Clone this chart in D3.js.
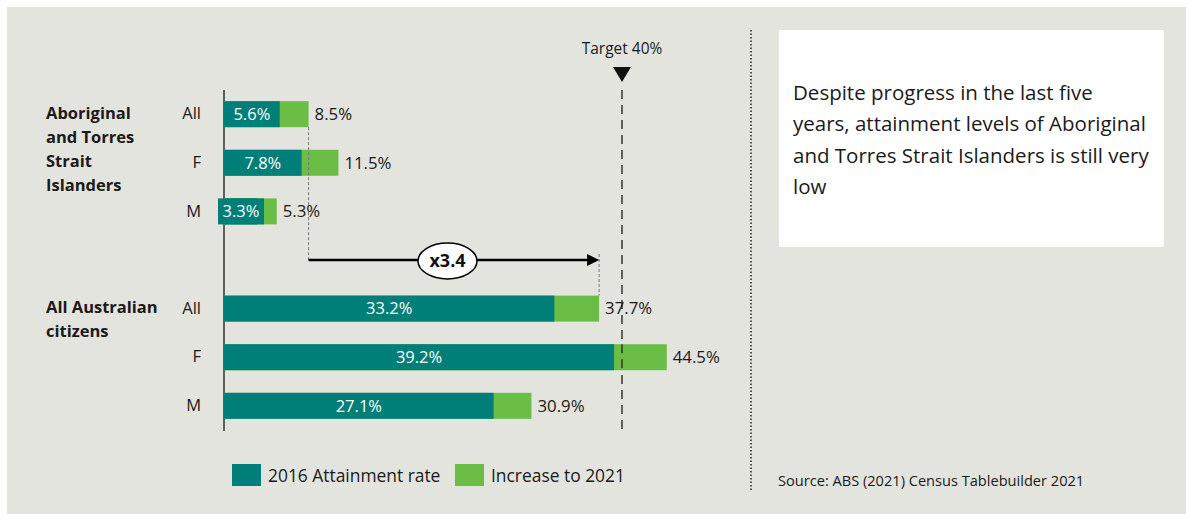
<!DOCTYPE html>
<html>
<head>
<meta charset="utf-8">
<script src="https://cdn.jsdelivr.net/npm/d3@7/dist/d3.min.js"></script>
<style>
  html, body { margin: 0; padding: 0; background: #ffffff; }
  svg { display: block; font-family: "Open Sans", Lato, sans-serif; }
</style>
</head>
<body>
<svg id="chart" width="1186" height="514"></svg>
<script>
// Bachelor-level attainment, 2016 rate and increase to 2021 (%)
const rows = ["atsi-All", "atsi-F", "atsi-M", "gap", "aus-All", "aus-F", "aus-M"];
const rowLabels = ["All", "F", "M", "", "All", "F", "M"];
const rate2016 = [5.6, 7.8, 3.3, null, 33.2, 39.2, 27.1];
const rate2021 = [8.5, 11.5, 5.3, null, 37.7, 44.5, 30.9];
const groupLabels = [
  { row: "atsi-All", lines: ["Aboriginal", "and Torres", "Strait", "Islanders"] },
  { row: "aus-All", lines: ["All Australian", "citizens"] }
];
const target = 40;
const multiplier = "x3.4";
const seriesNames = ["2016 Attainment rate", "Increase to 2021"];
const colors = ["#007f78", "#6abd45"];
const noteText = ["Despite progress in the last five", "years, attainment levels of Aboriginal",
                  "and Torres Strait Islanders is still very", "low"];
const sourceText = "Source: ABS (2021) Census Tablebuilder 2021";

const svg = d3.select("#chart");
const W = 1186, H = 514;
const ink = "#1a1a1a";

// panel background
svg.append("rect").attr("x", 7).attr("y", 7).attr("width", W - 7).attr("height", H - 7)
  .attr("fill", "#e4e4df");

const x = d3.scaleLinear().domain([0, 44.5]).range([224, 224 + 44.5 * 9.95]);
const y = d3.scaleBand().domain(rows).range([90, 430]).paddingInner(0.465).paddingOuter(0.23);
const bh = y.bandwidth();
const cy = r => y(r) + bh / 2;

const data = rows.map((r, i) => ({ row: r, label: rowLabels[i], v0: rate2016[i], v1: rate2021[i] }))
  .filter(d => d.v0 !== null);

// baseline (drawn first so bar labels sit over it)
svg.append("line").attr("x1", x(0)).attr("x2", x(0)).attr("y1", 90).attr("y2", 431)
  .attr("stroke", "#333").attr("stroke-width", 1.5);

// target line
svg.append("line").attr("x1", x(target)).attr("x2", x(target)).attr("y1", 90).attr("y2", 430)
  .attr("stroke", "#333").attr("stroke-width", 1.5).attr("stroke-dasharray", "9,6");

// bars: full 2021 length in green, 2016 base in teal on top
svg.append("g").selectAll("rect").data(data).join("rect")
  .attr("x", x(0)).attr("y", d => y(d.row))
  .attr("width", d => x(d.v1) - x(0)).attr("height", bh)
  .attr("fill", colors[1]);
svg.append("g").selectAll("rect").data(data).join("rect")
  .attr("x", x(0)).attr("y", d => y(d.row))
  .attr("width", d => x(d.v0) - x(0)).attr("height", bh)
  .attr("fill", colors[0]);

// the target line shows through the bars it crosses
svg.append("line").attr("x1", x(target)).attr("x2", x(target))
  .attr("y1", y("aus-F")).attr("y2", y("aus-F") + bh)
  .attr("stroke", "#333").attr("stroke-width", 1.5).attr("stroke-dasharray", "9,6");

// inner labels (white); narrow bars get a label box that overflows the bar
const inner = svg.append("g");
data.forEach(d => {
  const w = x(d.v0) - x(0);
  const txt = d.v0.toFixed(1) + "%";
  if (w < 40) {
    inner.append("rect").attr("x", x(0) - 6).attr("y", y(d.row))
      .attr("width", 46).attr("height", bh).attr("fill", colors[0]);
    inner.append("text").attr("x", x(0) - 6 + 23).attr("y", cy(d.row))
      .attr("text-anchor", "middle").attr("dy", "0.35em")
      .attr("fill", "#fff").attr("font-size", 16.5).text(txt);
  } else {
    inner.append("text").attr("x", (x(0) + x(d.v0)) / 2).attr("y", cy(d.row))
      .attr("text-anchor", "middle").attr("dy", "0.35em")
      .attr("fill", "#fff").attr("font-size", 16.5).text(txt);
  }
});

// end labels
svg.append("g").selectAll("text").data(data).join("text")
  .attr("x", d => x(d.v1) + 6).attr("y", d => cy(d.row)).attr("dy", "0.35em")
  .attr("font-size", 16.8).attr("fill", ink)
  .text(d => d.v1.toFixed(1) + "%");

// category axis
const axis = d3.axisLeft(y).tickSize(0).tickPadding(23)
  .tickFormat((d, i) => rowLabels[i]);
const gAxis = svg.append("g").attr("transform", `translate(${x(0)},0)`).call(axis);
gAxis.select(".domain").remove();
gAxis.selectAll("text").attr("font-size", 16.5).attr("fill", ink)
  .style("font-family", "'Open Sans', Lato, sans-serif");

// group labels
groupLabels.forEach(g => {
  const t = svg.append("text").attr("x", 46).attr("y", cy(g.row) - 1)
    .attr("font-size", 16.5).attr("font-weight", "bold").attr("fill", ink);
  g.lines.forEach((l, i) => t.append("tspan").attr("x", 46).attr("dy", i === 0 ? "0.35em" : 24).text(l));
});

// target marker
svg.append("path")
  .attr("d", `M${x(target) - 9},${67} L${x(target) + 9},${67} L${x(target)},${82} Z`)
  .attr("fill", "#111");
svg.append("text").attr("x", x(target)).attr("y", 54).attr("text-anchor", "middle")
  .attr("font-size", 15.5).attr("fill", ink).text("Target " + target + "%");

// comparison arrow: Aboriginal All (2021) vs All Australians (2021)
const ay = cy("gap");
const xa = x(rate2021[0]), xb = x(rate2021[4]);
svg.append("line").attr("x1", xa).attr("x2", xa).attr("y1", y("atsi-All") + bh).attr("y2", ay)
  .attr("stroke", "#777").attr("stroke-dasharray", "3,2");
svg.append("line").attr("x1", xb).attr("x2", xb).attr("y1", ay - 6).attr("y2", y("aus-All"))
  .attr("stroke", "#777").attr("stroke-dasharray", "3,2");
svg.append("line").attr("x1", xa).attr("x2", xb - 10).attr("y1", ay).attr("y2", ay)
  .attr("stroke", "#000").attr("stroke-width", 2.5);
svg.append("path").attr("d", `M${xb - 12},${ay - 6} L${xb},${ay} L${xb - 12},${ay + 6} Z`).attr("fill", "#000");
const ex = 447.5;
svg.append("ellipse").attr("cx", ex).attr("cy", ay + 1).attr("rx", 29.5).attr("ry", 18)
  .attr("fill", "#fff").attr("stroke", "#000").attr("stroke-width", 1.5);
svg.append("text").attr("x", ex).attr("y", ay + 1).attr("dy", "0.35em").attr("text-anchor", "middle")
  .attr("font-size", 18).attr("font-weight", "bold").attr("fill", "#111").text(multiplier);

// legend
const lg = svg.append("g");
const legendX = [232, 455];
seriesNames.forEach((s, i) => {
  lg.append("rect").attr("x", legendX[i]).attr("y", 464).attr("width", 29).attr("height", 22).attr("fill", colors[i]);
  lg.append("text").attr("x", legendX[i] + 36).attr("y", 476).attr("dy", "0.35em")
    .attr("font-size", 17.4).attr("fill", ink).text(s);
});

// separator
svg.append("line").attr("x1", 751).attr("x2", 751).attr("y1", 30).attr("y2", 490)
  .attr("stroke", "#222").attr("stroke-width", 1.5).attr("stroke-dasharray", "1.5,2");

// note box
svg.append("rect").attr("x", 779).attr("y", 30).attr("width", 385).attr("height", 217)
  .attr("rx", 2).attr("fill", "#fff");
const note = svg.append("text").attr("font-size", 20.5).attr("fill", ink);
noteText.forEach((l, i) => note.append("tspan").attr("x", 793).attr("y", 100 + i * 31.3).text(l));

svg.append("text").attr("x", 778).attr("y", 486).attr("font-size", 14.6).attr("fill", ink).text(sourceText);
</script>
</body>
</html>
